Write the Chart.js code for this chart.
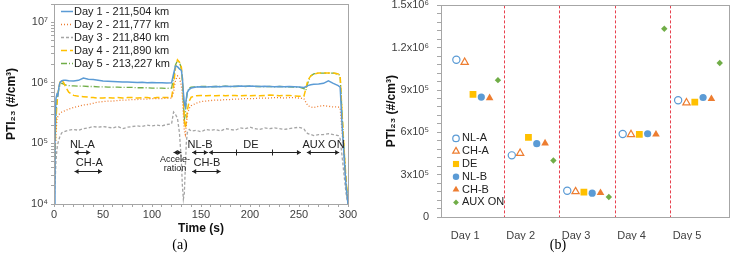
<!DOCTYPE html>
<html>
<head>
<meta charset="utf-8">
<script src="https://cdn.jsdelivr.net/npm/chart.js@4.4.0/dist/chart.umd.min.js"></script>
<style>
  html, body { margin: 0; padding: 0; background: #fff; }
  #wrap { position: relative; width: 734px; height: 261px; overflow: hidden; }
  .box { position: absolute; top: 0; height: 240px; }
  #boxA { left: 0; width: 372px; }
  #boxB { left: 380px; width: 354px; }
  .panel { position: absolute; top: 237px; width: 40px; text-align: center;
           font: 14px "Liberation Serif", "Times New Roman", serif; color: #000; }
</style>
</head>
<body>
<div id="wrap">
  <div class="box" id="boxA"><canvas id="chartA"></canvas></div>
  <div class="box" id="boxB"><canvas id="chartB"></canvas></div>
  <div class="panel" style="left:160px">(a)</div>
  <div class="panel" style="left:538px">(b)</div>
</div>
<script>
// ---------------- (a) time series ----------------
const timeS = [0,1,2,3,4,5,6,7,8,10,12,15,20,25,30,35,40,45,50,55,60,65,70,75,80,85,90,95,100,105,110,115,120,
  122,124,126,128,130,131,132,133,134,135,136,138,140,145,150,155,160,165,170,175,180,185,190,195,200,205,210,
  215,220,225,230,235,240,245,250,255,257,259,262,265,270,275,280,285,290,292,294,296,298,300];

const dayLabels = ['Day 1 - 211,504 km', 'Day 2 - 211,777 km', 'Day 3 - 211,840 km', 'Day 4 - 211,890 km', 'Day 5 - 213,227 km'];

const day1 = [1e4,1.5e5,5.5e5,6.5e5,6.2e5,8.5e5,1.0e6,1.05e6,1.08e6,1.1e6,1.1e6,1.08e6,1.07e6,1.1e6,1.2e6,1.15e6,1.13e6,1.1e6,1.07e6,1.06e6,1.05e6,1.04e6,1.03e6,1.03e6,1.02e6,1.01e6,1.02e6,1.0e6,1.01e6,1.0e6,1.0e6,9.9e5,1.0e6,
  1.4e6,1.9e6,1.85e6,1.7e6,1.6e6,1.2e6,7e5,4.5e5,4.0e5,5.5e5,7.0e5,7.8e5,8.2e5,8.5e5,8.6e5,8.5e5,8.6e5,8.7e5,8.6e5,8.8e5,8.7e5,8.8e5,8.9e5,8.8e5,8.9e5,8.8e5,8.7e5,
  8.8e5,8.7e5,8.6e5,8.7e5,8.6e5,8.7e5,8.6e5,8.5e5,8.4e5,8.6e5,9.0e5,9.3e5,9.5e5,9.6e5,9.8e5,1.08e6,9.8e5,9.0e5,8.5e5,2e5,6e4,2e4,1e4];

const day2 = [1e4,5e4,1.5e5,2.5e5,2.8e5,3.0e5,3.1e5,3.2e5,3.3e5,3.4e5,3.5e5,3.7e5,3.9e5,4.1e5,4.3e5,4.4e5,4.6e5,4.8e5,4.9e5,5.0e5,5.0e5,5.1e5,5.2e5,5.2e5,5.3e5,5.3e5,5.4e5,5.4e5,5.5e5,5.5e5,5.5e5,5.6e5,5.6e5,
  7e5,1.1e6,1.3e6,1.2e6,9e5,6e5,3e5,1.6e5,1.4e5,2.0e5,3.0e5,3.8e5,4.2e5,4.6e5,4.9e5,5.0e5,5.1e5,5.2e5,5.2e5,5.3e5,5.3e5,5.4e5,5.4e5,5.5e5,5.5e5,5.5e5,5.6e5,
  5.6e5,5.6e5,5.7e5,5.7e5,5.6e5,5.7e5,5.7e5,5.6e5,5.5e5,4.8e5,4.2e5,4.0e5,3.9e5,4.1e5,4.2e5,4.1e5,4.0e5,4.0e5,3.8e5,1.5e5,6e4,2e4,1e4];

const day3 = [1e4,2e4,5e4,8e4,1.0e5,1.15e5,1.3e5,1.4e5,1.5e5,1.55e5,1.6e5,1.65e5,1.7e5,1.65e5,1.75e5,1.8e5,1.9e5,1.85e5,1.9e5,1.85e5,1.8e5,1.9e5,1.75e5,1.85e5,1.9e5,1.95e5,1.9e5,2.0e5,1.95e5,2.0e5,1.95e5,2.05e5,2.1e5,
  3.3e5,3.0e5,2.6e5,1.5e5,5e4,2e4,1.2e4,1.5e4,4e4,1.0e5,1.5e5,1.7e5,1.6e5,1.65e5,1.55e5,1.7e5,1.65e5,1.7e5,1.6e5,1.75e5,1.7e5,1.65e5,1.8e5,1.75e5,1.85e5,1.75e5,1.7e5,
  1.8e5,1.75e5,1.8e5,1.75e5,1.7e5,1.75e5,1.8e5,1.85e5,1.75e5,1.55e5,1.45e5,1.4e5,1.35e5,1.4e5,1.4e5,1.45e5,1.4e5,1.35e5,1.2e5,6e4,3e4,1.5e4,1e4];

const day4 = [1e4,6e4,2.5e5,4.5e5,6.5e5,8.5e5,1.0e6,1.1e6,1.1e6,1.0e6,8.5e5,7.0e5,6.2e5,6.0e5,5.9e5,5.8e5,5.7e5,5.6e5,5.6e5,5.7e5,5.6e5,5.7e5,5.6e5,5.7e5,5.7e5,5.6e5,5.7e5,5.7e5,5.6e5,5.7e5,5.7e5,5.7e5,5.8e5,
  9e5,1.8e6,2.4e6,2.2e6,1.8e6,1.2e6,6e5,2.5e5,1.8e5,2.2e5,3.5e5,5.0e5,5.8e5,6.1e5,6.2e5,6.1e5,6.2e5,6.1e5,6.2e5,6.1e5,6.2e5,6.2e5,6.1e5,6.2e5,6.1e5,6.2e5,6.1e5,
  6.2e5,6.3e5,6.2e5,6.1e5,6.2e5,6.2e5,6.1e5,6.0e5,6.0e5,8e5,1.1e6,1.3e6,1.4e6,1.45e6,1.45e6,1.45e6,1.45e6,1.4e6,1.3e6,3e5,8e4,2.5e4,1e4];

const day5 = [1e4,8e4,3e5,5e5,6.5e5,8e5,9e5,9.5e5,9.8e5,9.5e5,9.2e5,9.0e5,8.9e5,8.8e5,8.8e5,8.7e5,8.7e5,8.6e5,8.6e5,8.5e5,8.5e5,8.5e5,8.4e5,8.4e5,8.4e5,8.3e5,8.3e5,8.3e5,8.2e5,8.2e5,8.2e5,8.1e5,8.2e5,
  1.2e6,2.0e6,2.3e6,2.2e6,1.7e6,1.1e6,5e5,2.5e5,3e5,5e5,7e5,8.2e5,8.5e5,8.6e5,8.7e5,8.7e5,8.6e5,8.7e5,8.7e5,8.8e5,8.7e5,8.7e5,8.8e5,8.7e5,8.8e5,8.7e5,8.7e5,
  8.6e5,8.7e5,8.6e5,8.7e5,8.6e5,8.6e5,8.5e5,8.5e5,8.0e5,7.5e5,1.0e6,1.3e6,1.4e6,1.45e6,1.45e6,1.45e6,1.45e6,1.4e6,1.3e6,3e5,8e4,2.5e4,1e4];

const xTickValuesA = [0, 50, 100, 150, 200, 250, 300];
const xTickLabelsA = ['0', '50', '100', '150', '200', '250', '300'];
const yTickValuesA = [1e4, 1e5, 1e6, 1e7];
const yTickLabelsA = ['10\u2074', '10\u2075', '10\u2076', '10\u2077'];

// test phases drawn under the curves
const phaseText  = ['NL-A', 'CH-A', 'NL-B', 'CH-B', 'DE', 'AUX ON'];
const phaseFrom  = [21, 21, 141, 141, 158, 258];
const phaseTo    = [37, 49, 157, 170, 252, 291];
const phaseRow   = [0, 1, 0, 1, 0, 0];
const phaseTextT = [29, 36, 149, 156, 201, 275];

// ---------------- (b) phase averages ----------------
const dayNames = ['Day 1', 'Day 2', 'Day 3', 'Day 4', 'Day 5'];
const phaseNames = ['NL-A', 'CH-A', 'DE', 'NL-B', 'CH-B', 'AUX ON'];
const nlA   = [1.115e6, 4.37e5, 1.86e5, 5.88e5, 8.28e5];
const chA   = [1.097e6, 4.52e5, 1.80e5, 5.85e5, 8.10e5];
const de    = [8.70e5, 5.64e5, 1.76e5, 5.86e5, 8.15e5];
const nlB   = [8.50e5, 5.20e5, 1.69e5, 5.90e5, 8.47e5];
const chB   = [8.44e5, 5.23e5, 1.71e5, 5.86e5, 8.38e5];
const auxOn = [9.70e5, 4.00e5, 1.42e5, 1.335e6, 1.092e6];
const yTickValuesB = [0, 3e5, 6e5, 9e5, 1.2e6, 1.5e6];
const yTickLabelsB = ['0', '3x10\u2075', '6x10\u2075', '9x10\u2075', '1.2x10\u2076', '1.5x10\u2076'];

const FONT = '"Liberation Sans", Arial, sans-serif';
const AXIS_GREY = '#a6a6a6';
const TITLE_TEXT = 'PTI\u2082\u2083 (#/cm\u00b3)';
Chart.defaults.font.family = FONT;
Chart.defaults.font.size = 11;
Chart.defaults.color = '#404040';
Chart.defaults.animation = false;

// grey frame around the plot area
const frame = {
  id: 'frame',
  afterDraw(chart) {
    const { ctx, chartArea: a } = chart;
    ctx.save();
    ctx.strokeStyle = AXIS_GREY;
    ctx.lineWidth = 1;
    ctx.strokeRect(Math.round(a.left) + 0.5, Math.round(a.top) + 0.5, Math.round(a.right - a.left), Math.round(a.bottom - a.top));
    ctx.restore();
  }
};

function headAt(ctx, x, y, dir) {
  ctx.beginPath();
  ctx.moveTo(x, y);
  ctx.lineTo(x - dir * 4, y - 2.5);
  ctx.lineTo(x - dir * 4, y + 2.5);
  ctx.closePath();
  ctx.fill();
}

function arrowLine(ctx, x1, x2, y) {
  ctx.beginPath();
  ctx.moveTo(x1, y);
  ctx.lineTo(x2, y);
  ctx.stroke();
  headAt(ctx, x1, y, -1);
  headAt(ctx, x2, y, 1);
}

// phase arrows + labels in (a)
const phases = {
  id: 'phases',
  afterDatasetsDraw(chart) {
    const { ctx } = chart;
    const xs = chart.scales.x, ys = chart.scales.y;
    const arrowY = [ys.getPixelForValue(7.1e4), ys.getPixelForValue(3.5e4)];
    const textY = [ys.getPixelForValue(9.4e4), ys.getPixelForValue(4.7e4)];
    ctx.save();
    ctx.strokeStyle = '#222';
    ctx.fillStyle = '#222';
    ctx.lineWidth = 1;
    ctx.font = '11px ' + FONT;
    ctx.textAlign = 'center';
    ctx.textBaseline = 'middle';
    phaseText.forEach((txt, i) => {
      const r = phaseRow[i];
      const y = Math.round(arrowY[r]) + 0.5;
      arrowLine(ctx, xs.getPixelForValue(phaseFrom[i]), xs.getPixelForValue(phaseTo[i]), y);
      ctx.fillText(txt, xs.getPixelForValue(phaseTextT[i]), textY[r]);
    });
    // DE sub-divisions
    [186, 222].forEach(t => {
      const x = Math.round(xs.getPixelForValue(t)) + 0.5;
      const y = Math.round(arrowY[0]) + 0.5;
      ctx.beginPath(); ctx.moveTo(x, y - 3); ctx.lineTo(x, y + 3); ctx.stroke();
    });
    // acceleration
    const ay = Math.round(arrowY[0]) + 0.5;
    arrowLine(ctx, xs.getPixelForValue(122), xs.getPixelForValue(130), ay);
    ctx.font = '9px ' + FONT;
    ctx.fillText('Accele-', xs.getPixelForValue(123.5), ys.getPixelForValue(5.5e4));
    ctx.fillText('ration', xs.getPixelForValue(123.5), ys.getPixelForValue(3.9e4));
    ctx.restore();
  }
};

const legendA = {
  id: 'legendA',
  afterDraw(chart) {
    const { ctx, chartArea: a } = chart;
    ctx.save();
    ctx.font = '11px ' + FONT;
    ctx.textBaseline = 'middle';
    chart.data.datasets.forEach((ds, i) => {
      const y = Math.round(a.top + 7 + i * 13) + 0.5;
      const x0 = a.left + 7;
      ctx.strokeStyle = ds.borderColor;
      ctx.lineWidth = ds.borderWidth;
      ctx.setLineDash(ds.borderDash || []);
      ctx.beginPath(); ctx.moveTo(x0, y); ctx.lineTo(x0 + 12, y); ctx.stroke();
      ctx.setLineDash([]);
      ctx.fillStyle = '#222';
      ctx.fillText(ds.label, x0 + 13, y);
    });
    ctx.restore();
  }
};

const lineColors = ['#5b9bd5', '#ed7d31', '#a5a5a5', '#ffc000', '#70ad47'];
const lineDashes = [[], [1, 2], [3, 2], [6, 3], [6, 2, 1, 2]];
const lineWidths = [1.5, 1.3, 1.3, 1.5, 1.3];
const daySeries = [day1, day2, day3, day4, day5];

new Chart(document.getElementById('chartA'), {
  type: 'line',
  data: {
    datasets: dayLabels.map((lbl, i) => ({
      label: lbl,
      data: timeS.map((t, k) => ({ x: t, y: daySeries[i][k] })),
      borderColor: lineColors[i],
      borderWidth: lineWidths[i],
      borderDash: lineDashes[i],
      pointRadius: 0,
      tension: 0,
      fill: false
    }))
  },
  options: {
    responsive: true,
    maintainAspectRatio: false,
    layout: { padding: { top: 4, right: 24, left: 0, bottom: 0 } },
    plugins: { legend: { display: false }, tooltip: { enabled: false } },
    scales: {
      x: {
        type: 'linear', min: 0, max: 300,
        afterBuildTicks: s => {
          const t = [];
          for (let v = 0; v <= 300; v += 10) t.push({ value: v });
          s.ticks = t;
        },
        afterFit: s => { s.height = 36; },
        ticks: {
          autoSkip: false, maxRotation: 0, padding: 1,
          callback: v => { const k = xTickValuesA.indexOf(v); return k >= 0 ? xTickLabelsA[k] : ''; }
        },
        grid: { drawOnChartArea: false, tickLength: 3, color: AXIS_GREY },
        border: { color: AXIS_GREY },
        title: { display: true, text: 'Time (s)', color: '#111', font: { size: 12, weight: 'bold' }, padding: { top: 0, bottom: 4 } }
      },
      y: {
        type: 'logarithmic', min: 1e4, max: 2e7,
        afterBuildTicks: s => {
          const t = [];
          for (let p = 4; p <= 7; p++) {
            for (let m = 1; m <= 9; m++) {
              const v = m * Math.pow(10, p);
              if (v <= 2e7) t.push({ value: v });
            }
          }
          s.ticks = t;
        },
        afterFit: s => { s.width = 54; s.paddingTop = 0; s.paddingBottom = 0; },
        ticks: {
          autoSkip: false, padding: 3,
          callback: v => { const k = yTickValuesA.indexOf(v); return k >= 0 ? yTickLabelsA[k] : ''; }
        },
        grid: { drawOnChartArea: false, tickLength: 3, color: AXIS_GREY },
        border: { color: AXIS_GREY },
        title: { display: true, text: TITLE_TEXT, color: '#111', font: { size: 12, weight: 'bold' }, padding: { top: 4, bottom: 0 } }
      }
    }
  },
  plugins: [frame, phases, legendA]
});

// ---------------- (b) ----------------
const phaseValues = [nlA, chA, de, nlB, chB, auxOn];
const markerStyles = ['circle', 'triangle', 'rect', 'circle', 'triangle', 'rectRot'];
const markerColors = ['#5b9bd5', '#ed7d31', '#ffc000', '#5b9bd5', '#ed7d31', '#70ad47'];
const markerFills  = ['#ffffff', '#ffffff', '#ffc000', '#5b9bd5', '#ed7d31', '#70ad47'];
const markerRadii  = [3.6, 4.2, 4.8, 3.6, 4.4, 3.2];
const markerBorder = [1.2, 1.2, 0, 0, 0, 0];
const seriesShift  = [-0.36, -0.21, -0.06, 0.09, 0.24, 0.39];

const separators = {
  id: 'separators',
  beforeDatasetsDraw(chart) {
    const { ctx, chartArea: a } = chart;
    const xs = chart.scales.x;
    ctx.save();
    ctx.strokeStyle = '#e8404e';
    ctx.lineWidth = 1;
    ctx.setLineDash([3, 2]);
    [1.5, 2.5, 3.5, 4.5].forEach(v => {
      const x = Math.round(xs.getPixelForValue(v)) + 0.5;
      ctx.beginPath(); ctx.moveTo(x, a.top); ctx.lineTo(x, a.bottom); ctx.stroke();
    });
    ctx.restore();
  }
};

const legendB = {
  id: 'legendB',
  afterDraw(chart) {
    const { ctx, chartArea: a } = chart;
    ctx.save();
    ctx.font = '11px ' + FONT;
    ctx.textBaseline = 'middle';
    chart.data.datasets.forEach((ds, i) => {
      const y = a.top + 133 + i * 12.8;
      const x = a.left + 15;
      ctx.fillStyle = ds.backgroundColor;
      ctx.strokeStyle = ds.borderColor;
      ctx.lineWidth = ds.borderWidth;
      Chart.helpers.drawPoint(ctx, { pointStyle: ds.pointStyle, radius: ds.pointRadius * 0.9, rotation: 0, borderWidth: ds.borderWidth }, x, y);
      ctx.fillStyle = '#222';
      ctx.fillText(ds.label, x + 6, y);
    });
    ctx.restore();
  }
};

new Chart(document.getElementById('chartB'), {
  type: 'scatter',
  data: {
    datasets: phaseNames.map((name, i) => ({
      label: name,
      data: dayNames.map((d, k) => ({ x: k + 1 + seriesShift[i], y: phaseValues[i][k] })),
      pointStyle: markerStyles[i],
      pointRadius: markerRadii[i],
      backgroundColor: markerFills[i],
      borderColor: markerColors[i],
      borderWidth: markerBorder[i]
    }))
  },
  options: {
    responsive: true,
    maintainAspectRatio: false,
    layout: { padding: { top: 5, right: 1, left: 0, bottom: 0 } },
    plugins: { legend: { display: false }, tooltip: { enabled: false } },
    scales: {
      x: {
        type: 'linear', min: 0.363, max: 5.55,
        afterBuildTicks: s => { s.ticks = dayNames.map((d, k) => ({ value: k + 0.8 })); },
        afterFit: s => { s.height = 23; },
        ticks: { autoSkip: false, maxRotation: 0, padding: 4, callback: (v, k) => dayNames[k] },
        grid: { display: false },
        border: { color: AXIS_GREY }
      },
      y: {
        min: 0, max: 1.5e6,
        afterBuildTicks: s => {
          const t = [];
          for (let v = 0; v <= 1.5e6 + 1; v += 6e4) t.push({ value: v });
          s.ticks = t;
        },
        afterFit: s => { s.width = 61; s.paddingTop = 0; s.paddingBottom = 0; },
        ticks: {
          autoSkip: false, padding: 8,
          callback: v => { const k = yTickValuesB.findIndex(w => Math.abs(w - v) < 1); return k >= 0 ? yTickLabelsB[k] : ''; }
        },
        grid: { drawOnChartArea: false, tickLength: 4, color: AXIS_GREY },
        border: { color: AXIS_GREY },
        title: { display: true, text: TITLE_TEXT, color: '#111', font: { size: 12, weight: 'bold' }, padding: { top: 4, bottom: 0 } }
      }
    }
  },
  plugins: [frame, separators, legendB]
});
</script>
</body>
</html>
